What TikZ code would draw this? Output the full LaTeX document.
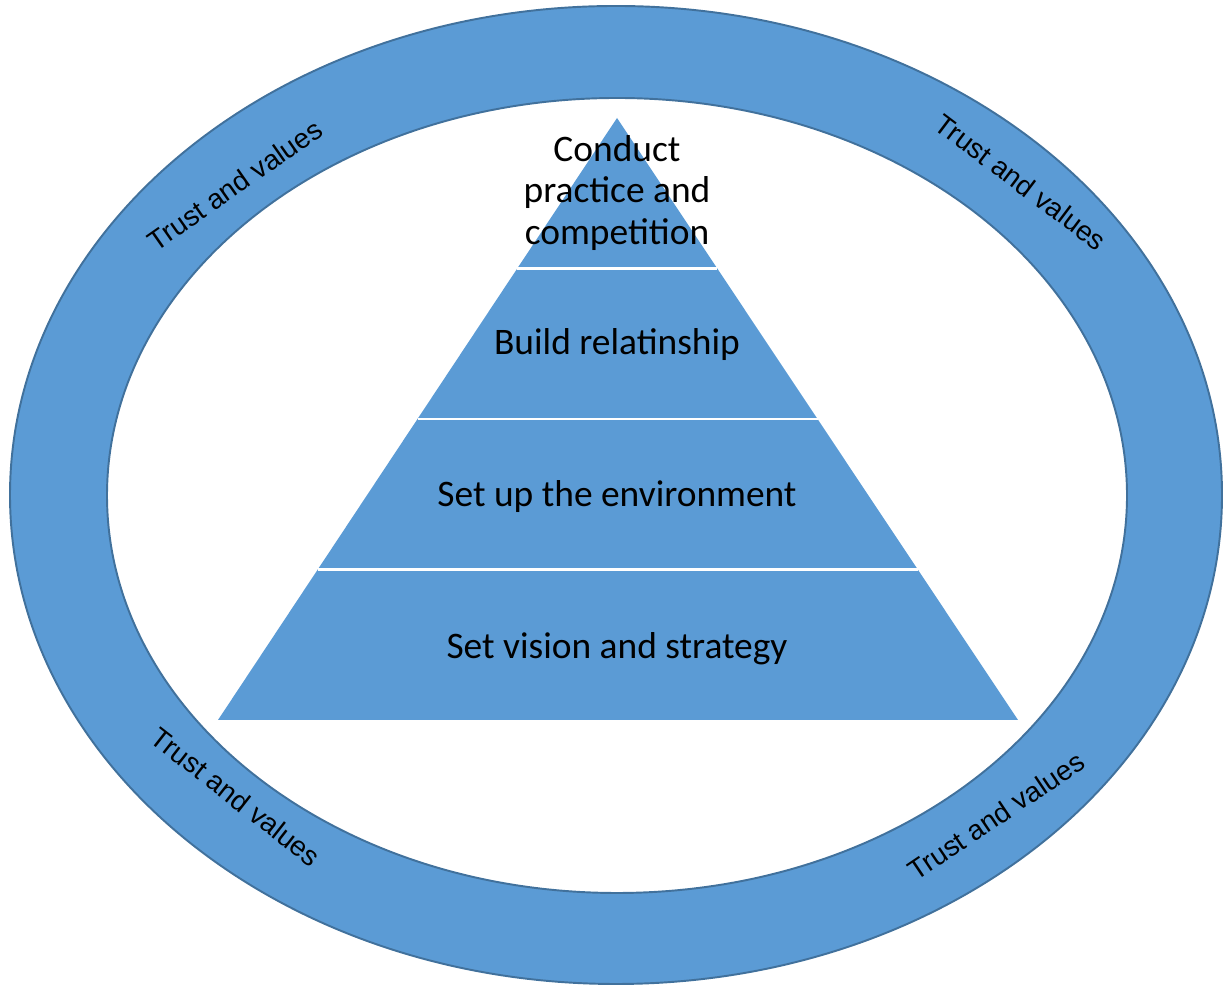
\documentclass[tikz,border=0pt]{standalone}
\usepackage{fontspec}
\setmainfont{Carlito}
\newfontfamily\ringfont{Liberation Sans}
\usepackage{tikz}
\usetikzlibrary{calc}
\definecolor{cwFill}{HTML}{5B9BD5}
\definecolor{cwEdge}{HTML}{41719C}
\tikzset{
    ring/.style={fill=cwFill, even odd rule},
    ringedge/.style={draw=cwEdge, line width=1.1pt},
    divider/.style={draw=white, line width=1.3pt},
    layer/.style={font=\fontsize{21.3}{23.4}\selectfont, align=center, text=black},
    motto/.style={font=\ringfont\fontsize{15.9}{18}\selectfont, text=black, inner sep=0pt}
}

\begin{document}
\begin{tikzpicture}
    \useasboundingbox (0,0) rectangle (24.6,19.7);

    % Outer ring
    \coordinate (c) at (12.32,9.80);
    \fill[ring] (c) ellipse (12.12 and 9.78) (12.34,9.79) ellipse (10.2 and 7.95);
    \draw[ringedge] (c) ellipse (12.12 and 9.78);
    \draw[ringedge] (12.34,9.79) ellipse (10.2 and 7.95);

    % Ring labels
    \node[motto, rotate=35] (tl) at (4.70,16.00) {Trust and values};
    \node[motto, rotate=-37] (tr) at (20.42,16.06) {Trust and values};
    \node[motto, rotate=-38] (bl) at (4.72,3.76) {Trust and values};
    \node[motto, rotate=34] (br) at (19.92,3.38) {Trust and values};

    % Pyramid
    \coordinate (apex) at (12.34,17.34);
    \coordinate (left) at (4.36,5.30);
    \coordinate (right) at (20.36,5.30);
    \fill[cwFill] (apex) -- (left) -- (right) -- cycle;
    \foreach \f in {0.25,0.5,0.75}
        \draw[divider] ($(apex)!\f!(left)$) -- ($(apex)!\f!(right)$);

    % Layer texts
    \node[layer] (top) at (12.34,15.84) {Conduct\\practice and\\competition};
    \node[layer] (rel) at (12.34,12.81) {Build relatinship};
    \node[layer] (env) at (12.34,9.77) {Set up the environment};
    \node[layer] (vis) at (12.34,6.73) {Set vision and strategy};
\end{tikzpicture}
\end{document}
